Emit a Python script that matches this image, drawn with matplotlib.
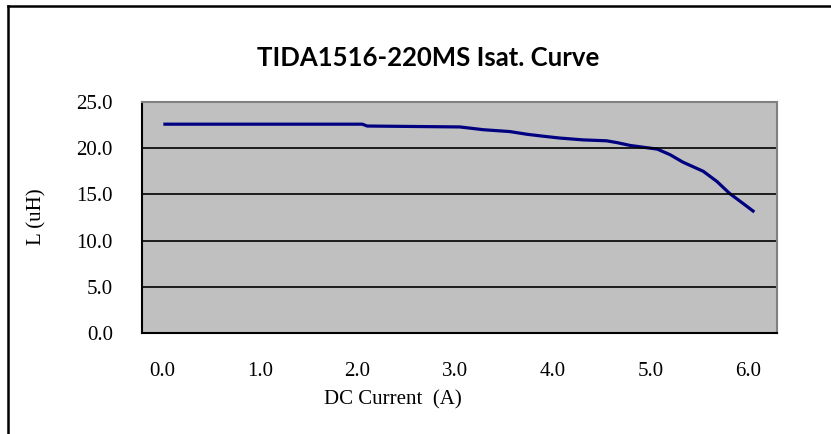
import numpy as np
import matplotlib.pyplot as plt
from matplotlib.lines import Line2D

# Data
current = [0.03, 2.05, 2.10, 3.05, 3.29, 3.56, 3.74, 3.90, 4.07, 4.31, 4.55,
           4.66, 4.79, 5.07, 5.20, 5.33, 5.54, 5.68, 5.81, 5.95, 6.05]
inductance = [22.6, 22.6, 22.4, 22.3, 22.0, 21.8, 21.5, 21.3, 21.1, 20.9, 20.8,
              20.6, 20.3, 19.9, 19.3, 18.5, 17.5, 16.4, 15.1, 14.0, 13.2]

xticks = [0, 1, 2, 3, 4, 5, 6]
yticks = [0, 5, 10, 15, 20, 25]

fig = plt.figure(figsize=(8.31, 4.34), dpi=100)
ax = fig.add_axes([142/831, 1 - 333/434, 635/831, 231/434])
ax.set_facecolor('#C0C0C0')

ax.plot(current, inductance, color='#000080', linewidth=2.3, solid_joinstyle='round')

ax.set_xlim(-0.205, 6.295)
ax.set_ylim(0, 25)
ax.set_xticks(xticks)
ax.set_xticklabels(['%.1f' % t for t in xticks])
ax.set_yticks(yticks)
ax.set_yticklabels(['%.1f' % t for t in yticks])
ax.tick_params(length=0, labelsize=15)
ax.tick_params(axis='y', pad=21)
ax.tick_params(axis='x', pad=21)
for lab in ax.get_xticklabels() + ax.get_yticklabels():
    lab.set_fontfamily('Liberation Serif')

for y in [5, 10, 15, 20]:
    ax.axhline(y, color='black', linewidth=1.2)

ax.spines['left'].set_color('black')
ax.spines['bottom'].set_color('black')
ax.spines['left'].set_linewidth(1.5)
ax.spines['bottom'].set_linewidth(1.5)
ax.spines['top'].set_color('#808080')
ax.spines['right'].set_color('#808080')
ax.spines['top'].set_linewidth(1.5)
ax.spines['right'].set_linewidth(1.5)

fig.text(428/831, 1 - 58/434, 'TIDA1516-220MS Isat. Curve', ha='center', va='center',
         fontsize=18.5, fontweight='bold', family='Lato')
fig.text(393/831, 1 - 400/434, 'DC Current  (A)', ha='center', va='center',
         fontsize=15, family='Liberation Serif')
fig.text(37/831, 1 - 217/434, 'L (uH)', ha='center', va='center', rotation=90,
         fontsize=15, family='Liberation Serif')

# outer chart border (top and left visible)
fig.add_artist(Line2D([8/831, 8/831], [0, 1 - 6/434], color='black', linewidth=1.8,
                      transform=fig.transFigure))
fig.add_artist(Line2D([8/831, 1], [1 - 6/434, 1 - 6/434], color='black', linewidth=1.8,
                      transform=fig.transFigure))

plt.savefig('out.png', dpi=100)
